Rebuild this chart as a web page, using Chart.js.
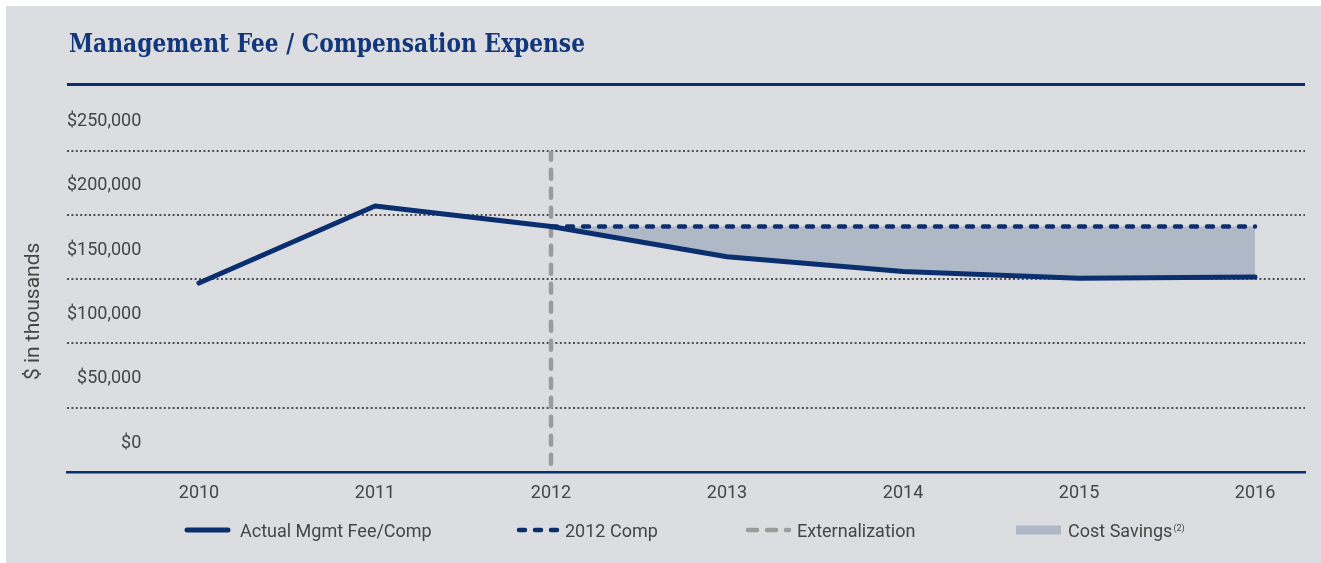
<!DOCTYPE html>
<html>
<head>
<meta charset="utf-8">
<script src="https://cdn.jsdelivr.net/npm/chart.js@4.4.1/dist/chart.umd.min.js"></script>
<style>
  html, body { margin: 0; padding: 0; background: #fff; }
  body { width: 1321px; height: 563px; position: relative; overflow: hidden; }
  #panel { position: absolute; left: 6px; top: 6px; right: 0; bottom: 0; background: #dcdde0; }
  #myFeeChart { position: absolute; left: 0; top: 0; }
</style>
</head>
<body>
<div id="panel"></div>
<canvas id="myFeeChart" width="1321" height="563"></canvas>
<script>
const years = [2010, 2011, 2012, 2013, 2014, 2015, 2016];
const actualFee = [147000, 207000, 191000, 167500, 156000, 150700, 151700];
const compYears = [2012, 2013, 2014, 2015, 2016];
const comp2012 = [191000, 191000, 191000, 191000, 191000];
const externalizationYear = 2012;
const yTicks = [0, 50000, 100000, 150000, 200000, 250000];

const navy = "#0b2f6e";
const textColor = "#454545";

const ctx = document.querySelector("#myFeeChart").getContext("2d");

const toPoints = (xs, ys) => xs.map((x, i) => ({ x: x, y: ys[i] }));

// title, rule under it and a legend placed like the original
const titleAndLegend = {
  id: "titleAndLegend",
  afterDraw(chart, args, opts) {
    const c = chart.ctx;
    const area = chart.chartArea;
    c.save();
    c.textAlign = "left";
    c.textBaseline = "alphabetic";
    c.fillStyle = opts.titleColor;
    c.font = "bold 26.5px 'DejaVu Serif', serif";
    const w = c.measureText(opts.title).width;
    c.translate(69, 52);
    c.scale(opts.titleWidth / w, 1);
    c.fillText(opts.title, 0, 0);
    c.restore();

    c.save();
    c.fillStyle = navy;
    c.fillRect(area.left, 83, area.right - area.left, 3);
    c.restore();

    chart.data.datasets.forEach((ds, i) => {
      const pos = opts.positions[i];
      const y = opts.y;
      c.save();
      if (ds.legendBox) {
        c.fillStyle = ds.backgroundColor;
        c.fillRect(pos[0], y - 4.5, pos[1] - pos[0], 9);
      } else {
        c.strokeStyle = ds.borderColor;
        c.lineWidth = ds.borderWidth;
        c.lineCap = "round";
        c.setLineDash(ds.borderDash || []);
        c.beginPath();
        c.moveTo(pos[0] + 2, y);
        c.lineTo(pos[1] - 2, y);
        c.stroke();
      }
      c.setLineDash([]);
      c.fillStyle = textColor;
      c.font = "18px Roboto";
      c.textBaseline = "alphabetic";
      c.fillText(ds.label, pos[2], y + 7);
      if (ds.labelNote) {
        const tw = c.measureText(ds.label).width;
        c.font = "9px Roboto";
        c.fillText(ds.labelNote, pos[2] + tw + 1, y + 1);
      }
      c.restore();
    });
  }
};

const data = {
  datasets: [
    {
      label: "Actual Mgmt Fee/Comp",
      data: toPoints(years, actualFee),
      borderColor: navy,
      borderWidth: 5,
      borderCapStyle: "round",
      borderJoinStyle: "round",
      pointRadius: 0,
      fill: false,
    },
    {
      label: "2012 Comp",
      data: toPoints(compYears, comp2012),
      borderColor: navy,
      borderWidth: 4.5,
      borderDash: [6, 10],
      borderCapStyle: "round",
      pointRadius: 0,
      fill: false,
    },
    {
      label: "Externalization",
      data: [
        { x: externalizationYear, y: yTicks[yTicks.length - 1] },
        { x: externalizationYear, y: 0 },
      ],
      borderColor: "#9b9b9b",
      borderWidth: 4.5,
      borderDash: [9, 10],
      borderCapStyle: "round",
      pointRadius: 0,
      fill: false,
    },
    {
      label: "Cost Savings",
      labelNote: "(2)",
      legendBox: true,
      data: toPoints(compYears, comp2012),
      borderWidth: 0,
      borderColor: "rgba(0,0,0,0)",
      backgroundColor: "#afb8c7",
      pointRadius: 0,
      fill: { target: 0 },
    },
  ],
};

const config = {
  type: "line",
  data: data,
  plugins: [titleAndLegend],
  options: {
    responsive: false,
    animation: false,
    events: [],
    layout: {
      padding: { top: 150.7, right: 16, bottom: 0, left: 0 },
    },
    scales: {
      x: {
        type: "linear",
        position: "bottom",
        min: 2009.25,
        max: 2016.284,
        afterBuildTicks: (scale) => {
          scale.ticks = years.map((v) => ({ value: v }));
        },
        afterFit: (scale) => {
          scale.height = 91;
        },
        grid: { display: false },
        border: { display: true, color: navy, width: 2.5 },
        ticks: {
          padding: 3,
          color: textColor,
          font: { family: "Roboto", size: 18 },
          callback: (v) => String(v),
        },
      },
      y: {
        min: 0,
        max: yTicks[yTicks.length - 1],
        afterBuildTicks: (scale) => {
          scale.ticks = yTicks.map((v) => ({ value: v }));
        },
        afterFit: (scale) => {
          scale.width = 67;
        },
        grid: {
          drawTicks: false,
          lineWidth: 2,
          color: (c) => (c.tick && c.tick.value === 0 ? "rgba(0,0,0,0)" : "#4f4f4f"),
        },
        border: { display: false, dash: [2, 2.4] },
        ticks: {
          mirror: true,
          crossAlign: "far",
          padding: 0,
          labelOffset: -29,
          color: textColor,
          font: { family: "Roboto", size: 18 },
          callback: (v) => "$" + v.toLocaleString("en-US"),
        },
        title: {
          display: true,
          text: "$ in thousands",
          color: textColor,
          font: { family: "Roboto", size: 21 },
          padding: { top: 21, bottom: 0 },
        },
      },
    },
    plugins: {
      legend: { display: false },
      tooltip: { enabled: false },
      titleAndLegend: {
        title: "Management Fee / Compensation Expense",
        titleColor: "#12377a",
        titleWidth: 516,
        y: 530,
        positions: [
          [185, 230, 240],
          [517, 559, 565],
          [746, 791, 797],
          [1016, 1061, 1068],
        ],
      },
    },
  },
};

const feeChart = new Chart(ctx, config);
</script>
</body>
</html>
